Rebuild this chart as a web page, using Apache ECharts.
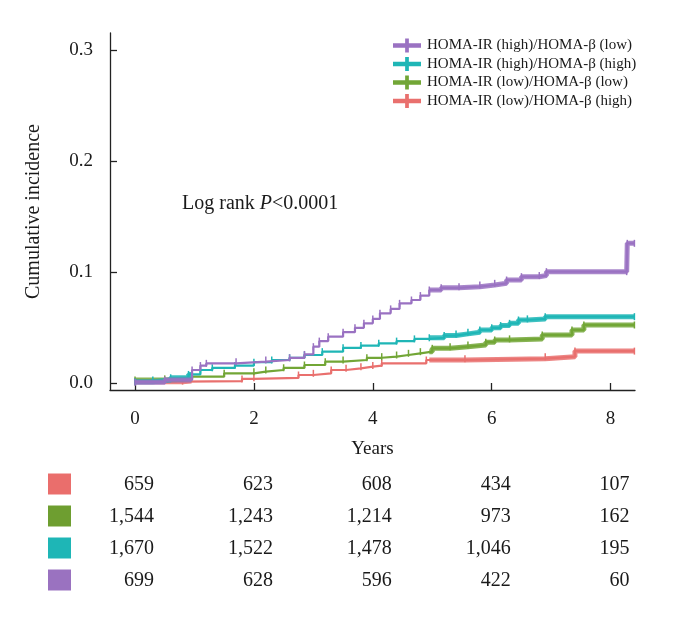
<!DOCTYPE html>
<html>
<head>
<meta charset="utf-8">
<script src="https://cdn.jsdelivr.net/npm/echarts@6/dist/echarts.min.js"></script>
<style>
html,body{margin:0;padding:0;background:#fff;}
#chart{width:677px;height:621px;}
</style>
</head>
<body>
<div id="chart"></div>
<script>
// ---------- data ----------
const groupNames = [
  'HOMA-IR (high)/HOMA-β (low)',
  'HOMA-IR (high)/HOMA-β (high)',
  'HOMA-IR (low)/HOMA-β (low)',
  'HOMA-IR (low)/HOMA-β (high)'
];
const groupColors = ['#9a72c2', '#1fb6b6', '#72a636', '#e9706e'];

// [time (years), cumulative incidence after the step]
const curveHighLow = [
  [0,0.001],[0.5,0.003],[0.96,0.012],[1.1,0.016],[1.2,0.018],[1.7,0.0195],[2.2,0.021],
  [2.6,0.023],[2.85,0.026],[3.0,0.033],[3.1,0.038],[3.25,0.042],[3.5,0.046],[3.7,0.050],
  [3.85,0.054],[4.0,0.058],[4.12,0.063],[4.3,0.067],[4.45,0.072],[4.65,0.075],[4.8,0.079],
  [4.95,0.084],[5.15,0.086],[5.45,0.087],[5.8,0.0885],[6.05,0.090],[6.25,0.093],[6.5,0.096],
  [6.8,0.097],[6.92,0.1005],[8.27,0.1005],[8.28,0.126],[8.4,0.126]
];
const curveHighHigh = [
  [0,0.0015],[0.3,0.003],[0.6,0.005],[0.9,0.008],[1.1,0.012],[1.3,0.014],[1.68,0.016],
  [2.0,0.019],[2.3,0.021],[2.6,0.023],[2.85,0.0255],[3.15,0.0285],[3.5,0.032],[3.8,0.034],
  [4.1,0.036],[4.4,0.038],[4.7,0.040],[4.95,0.041],[5.2,0.043],[5.4,0.0445],[5.6,0.046],
  [5.8,0.048],[6.0,0.050],[6.15,0.052],[6.3,0.054],[6.45,0.057],[6.6,0.058],[6.9,0.060],[8.4,0.060]
];
const curveLowLow = [
  [0,0.003],[0.5,0.004],[0.96,0.006],[1.5,0.009],[2.0,0.0105],[2.2,0.012],[2.5,0.014],
  [2.85,0.0165],[3.2,0.0195],[3.5,0.021],[3.9,0.023],[4.15,0.024],[4.4,0.0255],[4.6,0.027],
  [4.8,0.0285],[5.0,0.0315],[5.3,0.033],[5.6,0.0345],[5.9,0.037],[6.05,0.039],[6.3,0.040],
  [6.85,0.0435],[7.35,0.048],[7.55,0.0525],[8.4,0.0525]
];
const curveLowHigh = [
  [0,0.0015],[0.8,0.002],[1.8,0.004],[2.0,0.005],[2.75,0.0075],[3.0,0.009],[3.3,0.012],
  [3.55,0.0135],[3.8,0.015],[4.0,0.016],[4.15,0.018],[4.9,0.021],[5.55,0.0222],[6.9,0.024],
  [7.4,0.029],[8.4,0.029]
];
const curves = [curveHighLow, curveHighHigh, curveLowLow, curveLowHigh];

// periods with dense censoring marks (drawn as a thicker band)
const denseRanges = [[0, 0.95], [4.95, 8.4]];

const xTicks = [0, 2, 4, 6, 8];
const yTicks = [0, 0.1, 0.2, 0.3];

// numbers at risk (rows top to bottom)
const riskTimes = [0, 2, 4, 6, 8];
const riskLowHigh = [659, 623, 608, 434, 107];
const riskLowLow = [1544, 1243, 1214, 973, 162];
const riskHighHigh = [1670, 1522, 1478, 1046, 195];
const riskHighLow = [699, 628, 596, 422, 60];
const riskRows = [riskLowHigh, riskLowLow, riskHighHigh, riskHighLow];
const riskRowColors = ['#ea6e6c', '#6e9e30', '#1eb6b6', '#9a72c0'];

// ---------- helpers ----------
function valueAt(d, t) {
  let v = d[0][1];
  d.forEach(p => { if (p[0] <= t) v = p[1]; });
  return v;
}
function segment(d, a, b) {
  const out = [[a, valueAt(d, a)]];
  d.forEach(p => { if (p[0] > a && p[0] < b) out.push(p); });
  out.push([b, valueAt(d, b)]);
  return out;
}

const FONT = '"Liberation Serif", "DejaVu Serif", serif';
const TXT = '#1a1a1a';
const plusIcon = 'path://M0,5 L30,5 L30,10 L0,10 Z M13,0 L17,0 L17,15 L13,15 Z';

const series = [];
// draw order: red, green, teal, purple (purple on top)
[3, 2, 1, 0].forEach(i => {
  const c = groupColors[i];
  series.push({
    type: 'line', name: groupNames[i], data: curves[i], step: 'end',
    xAxisIndex: 0, yAxisIndex: 0,
    symbol: 'rect', symbolSize: [1.5, 7], showSymbol: true,
    lineStyle: { width: 2.2, color: c }, itemStyle: { color: c },
    z: 3 + (3 - i), silent: true
  });
  denseRanges.forEach(r => {
    series.push({
      type: 'line', name: groupNames[i], data: segment(curves[i], r[0], r[1]), step: 'end',
      xAxisIndex: 0, yAxisIndex: 0, showSymbol: false,
      lineStyle: { width: 5, color: c, opacity: 0.85 }, itemStyle: { color: c },
      z: 3 + (3 - i), silent: true
    });
  });
});

// risk table squares
series.push({
  type: 'scatter', xAxisIndex: 1, yAxisIndex: 1, silent: true,
  symbol: 'rect', symbolSize: [23, 21],
  data: riskRows.map((r, k) => ({ value: [-1.27, k], itemStyle: { color: riskRowColors[k], opacity: 1 } }))
});
// risk table numbers
riskRows.forEach((row, k) => {
  series.push({
    type: 'scatter', xAxisIndex: 1, yAxisIndex: 1, silent: true,
    symbolSize: 0, itemStyle: { opacity: 1 },
    data: riskTimes.map((t, j) => [t, k, row[j]]),
    label: {
      show: true, position: 'inside', align: 'right', verticalAlign: 'middle', offset: [19, 1],
      fontFamily: FONT, fontSize: 20, color: TXT, opacity: 1,
      formatter: p => p.data[2].toLocaleString('en-US')
    }
  });
});

const option = {
  animation: false,
  backgroundColor: '#fff',
  title: {
    text: '{a|Log rank }{i|P}{a|<0.0001}',
    left: 182, top: 194, padding: 0,
    textStyle: {
      fontWeight: 'normal',
      rich: {
        a: { fontFamily: FONT, fontSize: 20, color: TXT, fontWeight: 'normal' },
        i: { fontFamily: FONT, fontSize: 20, color: TXT, fontStyle: 'italic', fontWeight: 'normal' }
      }
    }
  },
  legend: {
    orient: 'vertical', left: 388, top: 33,
    itemWidth: 30, itemHeight: 14, itemGap: 3.5,
    selectedMode: false,
    textStyle: { fontFamily: FONT, fontSize: 15, color: TXT },
    data: groupNames.map(n => ({ name: n, icon: plusIcon }))
  },
  grid: [
    { left: 110, right: 42, top: 33, bottom: 231 },
    { left: 40, right: 42, top: 468, height: 128 }
  ],
  xAxis: [
    {
      type: 'value', gridIndex: 0, min: -0.4205, max: 8.41,
      name: 'Years', nameLocation: 'middle', nameGap: 50,
      nameTextStyle: { fontFamily: FONT, fontSize: 19, color: TXT },
      axisLine: { show: true, onZero: false, lineStyle: { color: '#222', width: 1.3 } },
      axisTick: { show: true, inside: true, length: 7, customValues: xTicks, lineStyle: { color: '#222', width: 1.3 } },
      axisLabel: { customValues: xTicks, margin: 20, fontFamily: FONT, fontSize: 19, color: TXT },
      splitLine: { show: false }
    },
    {
      type: 'value', gridIndex: 1, min: -1.598, max: 8.41, show: false
    }
  ],
  yAxis: [
    {
      type: 'value', gridIndex: 0, min: -0.006, max: 0.3153,
      name: 'Cumulative incidence', nameLocation: 'middle', nameGap: 66, nameRotate: 90,
      nameTextStyle: { fontFamily: FONT, fontSize: 20, color: TXT },
      axisLine: { show: true, onZero: false, lineStyle: { color: '#222', width: 1.3 } },
      axisTick: { show: true, inside: true, length: 7, customValues: yTicks, lineStyle: { color: '#222', width: 1.3 } },
      axisLabel: { customValues: yTicks, margin: 17, fontFamily: FONT, fontSize: 19, color: TXT,
        formatter: v => v.toFixed(1) },
      splitLine: { show: false }
    },
    {
      type: 'category', gridIndex: 1, inverse: true, show: false,
      data: ['r0', 'r1', 'r2', 'r3']
    }
  ],
  series: series
};

const chart = echarts.init(document.getElementById('chart'), null, { renderer: 'canvas' });
chart.setOption(option);
</script>
</body>
</html>
